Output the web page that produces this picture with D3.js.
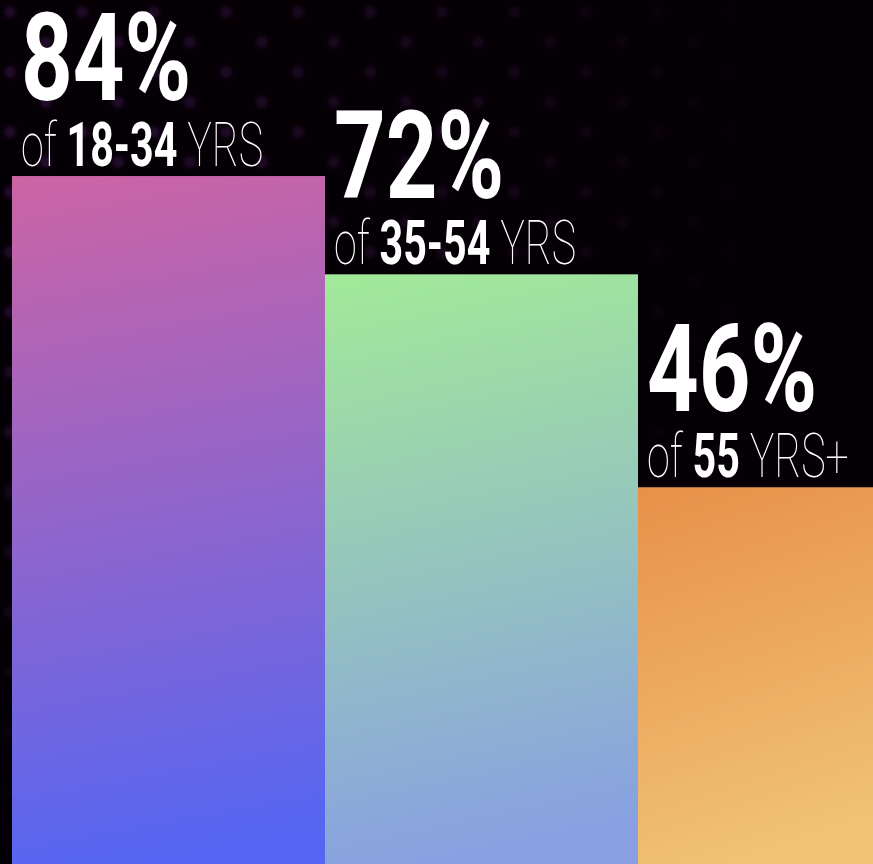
<!DOCTYPE html>
<html><head><meta charset="utf-8">
<script src="https://cdn.jsdelivr.net/npm/d3@7"></script>
<style>html,body{margin:0;padding:0;background:#050005;overflow:hidden}</style>
</head><body>
<svg id="chart" width="873" height="864"></svg>
<script>
const categories = ["18-34", "35-54", "55"];
const values = [84, 72, 46];
const suffixes = [" YRS", " YRS", " YRS+"];
const colorStart = ["#cc64a4", "#a2ea98", "#e8904a"];
const colorEnd = ["#5566f2", "#88a0e2", "#f0c474"];

const W = 873, H = 864;
const svg = d3.select("#chart");
const defs = svg.append("defs");

// background
svg.append("rect").attr("width", W).attr("height", H).attr("fill", "#050005");
const pat = defs.append("pattern").attr("id", "dots").attr("patternUnits", "userSpaceOnUse")
  .attr("width", 72).attr("height", 60);
[[10, 12], [46, 42]].forEach(([cx, cy]) => pat.append("circle").attr("cx", cx).attr("cy", cy).attr("r", 6).attr("fill", "#2a0a36"));
defs.append("filter").attr("id", "blur").append("feGaussianBlur").attr("stdDeviation", 2.5);
const rg = defs.append("radialGradient").attr("id", "fade").attr("gradientUnits", "userSpaceOnUse")
  .attr("cx", 60).attr("cy", 150).attr("r", 720);
rg.append("stop").attr("offset", 0).attr("stop-color", "#fff").attr("stop-opacity", 0.9);
rg.append("stop").attr("offset", 0.6).attr("stop-color", "#fff").attr("stop-opacity", 0.45);
rg.append("stop").attr("offset", 1).attr("stop-color", "#fff").attr("stop-opacity", 0);
defs.append("mask").attr("id", "fadeMask").append("rect").attr("width", W).attr("height", H).attr("fill", "url(#fade)");
svg.append("rect").attr("width", W).attr("height", H).attr("fill", "url(#dots)")
  .attr("mask", "url(#fadeMask)").attr("filter", "url(#blur)");

// scales
const x = d3.scaleBand().domain(categories).range([12, 951]).paddingInner(0).paddingOuter(0);
const y = d3.scaleLinear().domain([0, 100]).range([H, 45]);

categories.forEach((c, i) => {
  const x0 = x(c), top = y(values[i]), w = x.bandwidth();
  const g = defs.append("linearGradient").attr("id", "g" + i).attr("gradientUnits", "userSpaceOnUse")
    .attr("x1", x0).attr("y1", top).attr("x2", x0 + w * 0.4).attr("y2", H);
  g.append("stop").attr("offset", 0).attr("stop-color", colorStart[i]);
  g.append("stop").attr("offset", 1).attr("stop-color", colorEnd[i]);
});

svg.selectAll("rect.bar").data(categories).enter().append("rect")
  .attr("class", "bar")
  .attr("x", d => x(d)).attr("y", (d, i) => y(values[i]))
  .attr("width", x.bandwidth()).attr("height", (d, i) => H - y(values[i]))
  .attr("fill", (d, i) => `url(#g${i})`);

const font = "Roboto, 'Liberation Sans', sans-serif";
categories.forEach((c, i) => {
  const lx = x(c) + 9, top = y(values[i]);
  svg.append("text")
    .attr("transform", `translate(${lx},${top - 76}) scale(0.74,1)`)
    .attr("font-family", font).attr("font-weight", 700).attr("font-size", 122)
    .attr("fill", "#fff").text(values[i] + "%");
  const t = svg.append("text")
    .attr("transform", `translate(${lx},${top - 10}) scale(0.665,1)`)
    .attr("font-family", font).attr("font-size", 62).attr("fill", "#fff");
  t.append("tspan").attr("font-weight", 100).text("of ");
  t.append("tspan").attr("font-weight", 700).text(c);
  t.append("tspan").attr("font-weight", 100).text(suffixes[i]);
});
</script>
</body></html>
